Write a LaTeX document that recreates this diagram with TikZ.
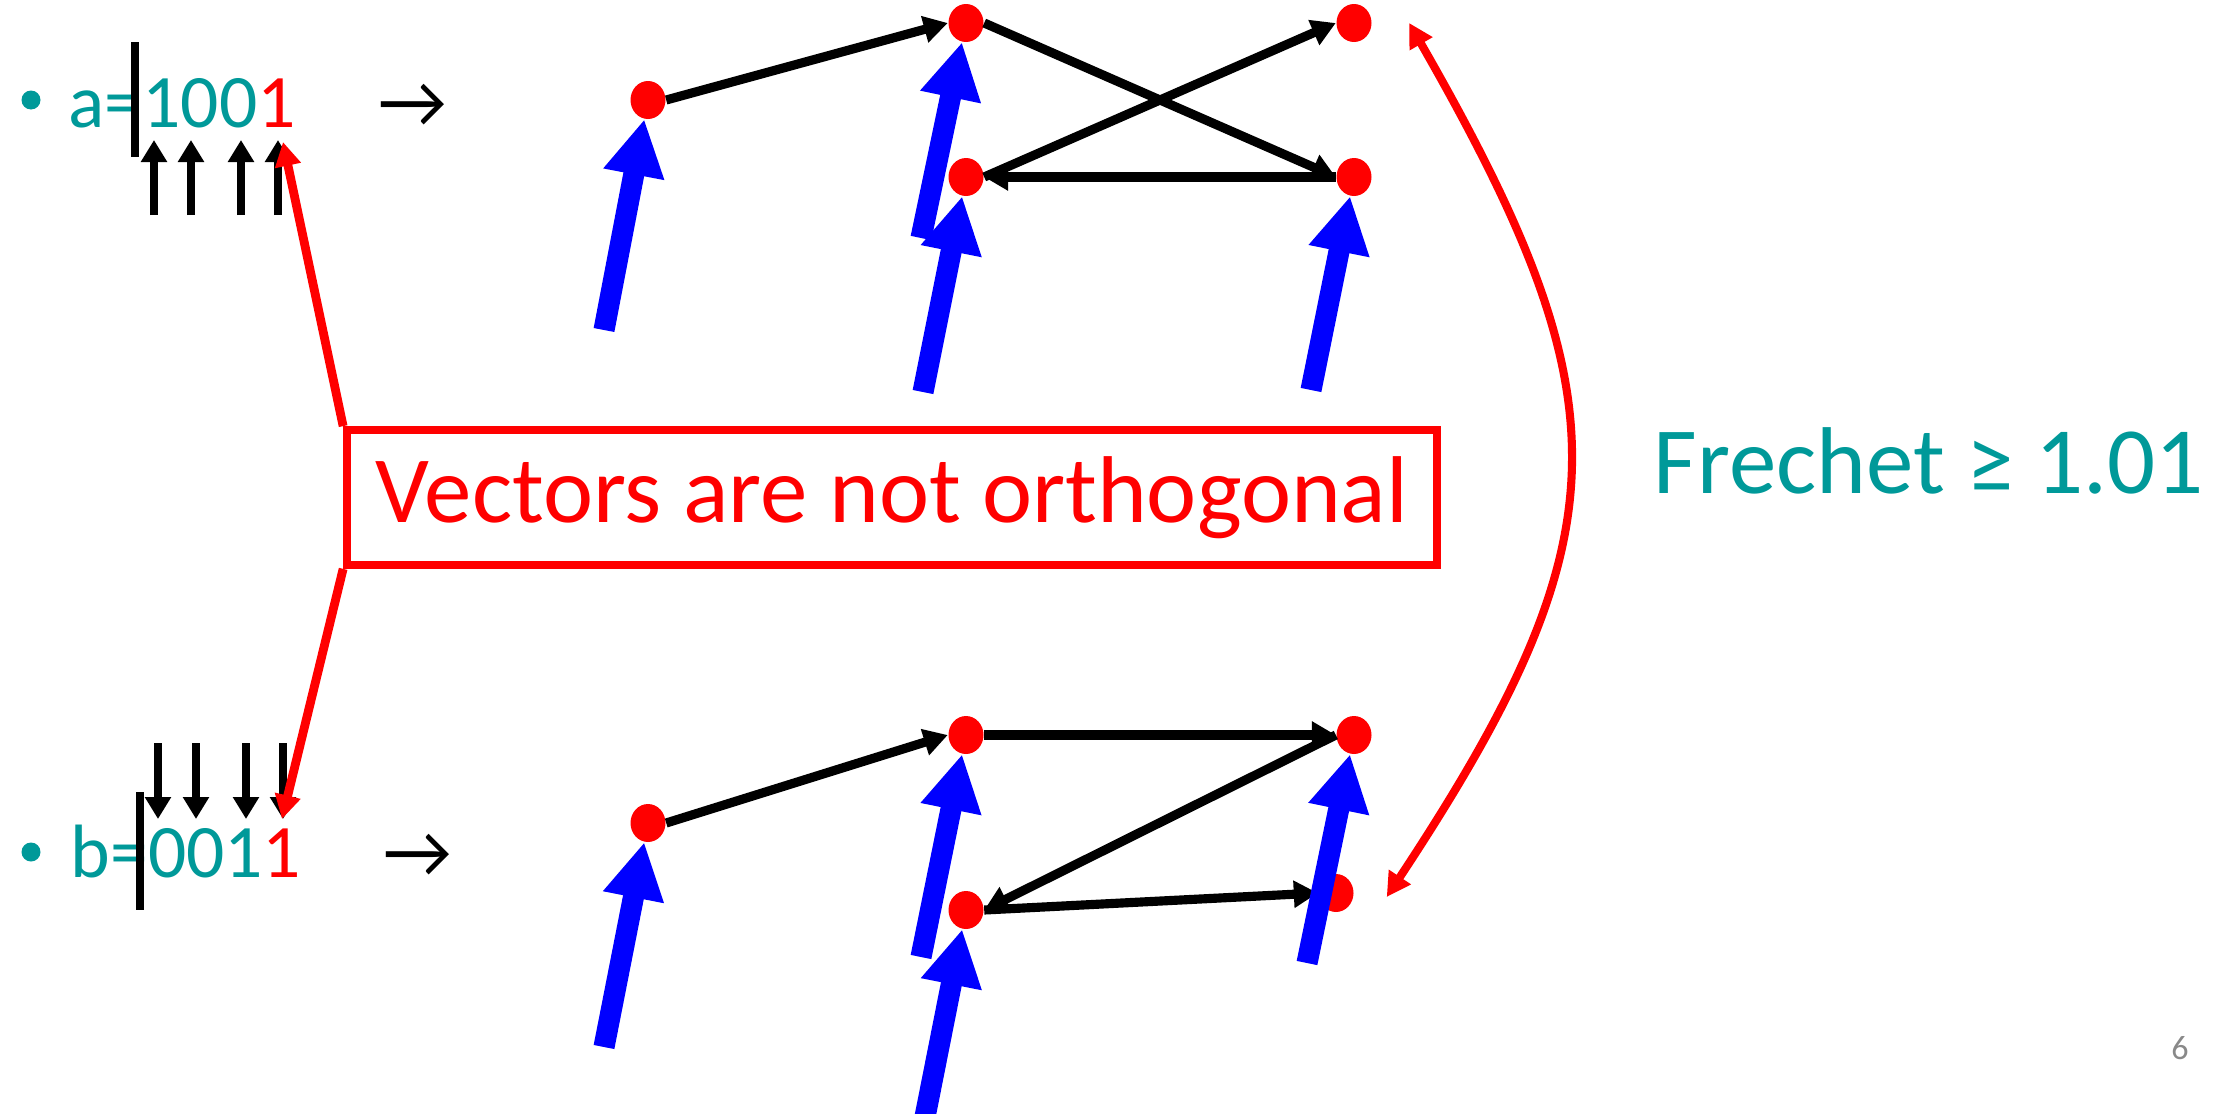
\documentclass[tikz,border=0pt]{standalone}
\usepackage{fontspec}
\setmainfont{Carlito}
\usetikzlibrary{arrows.meta,shapes.geometric,positioning}
\definecolor{verde}{RGB}{0,153,153}
\definecolor{grigio}{RGB}{137,137,137}

\begin{document}
\begin{tikzpicture}[
    punto/.style={ellipse, fill=red, inner sep=0pt, minimum width=3.5mm, minimum height=3.8mm},
    arco/.style={line width=2.6pt, -{Triangle[length=2.4mm,width=2.6mm]}},
    vett/.style={blue, line width=6pt, -{Triangle[length=5.6mm,width=5.8mm]}},
    bit/.style={line width=2.2pt, -{Triangle[length=2.2mm,width=2.5mm]}},
    rosso/.style={red, line width=2.5pt, -{Triangle[length=2.4mm,width=2.5mm]}},
    riga/.style={anchor=base west, inner sep=0pt, text=verde, font=\fontsize{21.5}{24}\selectfont},
    pallino/.style={circle, fill=verde, inner sep=0pt, minimum size=1.9mm}
  ]

  \useasboundingbox (0,0) rectangle (22.32,11.13);

  % --- a = 1001 ---
  \node[pallino] (bula) at (0.31,10.13) {};
  \node[riga] (a) at (0.68,9.86) {a=100\textcolor{red}{1}};
  \node[riga, text=black] (fa) at (3.78,9.86) {→};
  \draw[line width=2.2pt] (1.35,10.71) -- (1.35,9.56);
  \foreach \x in {1.54,1.91,2.41,2.78}
    \draw[bit] (\x,8.98) -- (\x,9.73);

  % --- b = 0011 ---
  \node[pallino] (bulb) at (0.31,2.61) {};
  \node[riga] (b) at (0.70,2.36) {b=001\textcolor{red}{1}};
  \node[riga, text=black] (fb) at (3.83,2.36) {→};
  \draw[line width=2.2pt] (1.40,3.21) -- (1.40,2.03);
  \foreach \x in {1.58,1.96,2.46,2.83}
    \draw[bit] (\x,3.70) -- (\x,2.94);

  % --- punti di a ---
  \node[punto] (pa1) at (6.48,10.13) {};
  \node[punto] (pa2) at (9.66,10.90) {};
  \node[punto] (pa3) at (13.54,10.90) {};
  \node[punto] (pa4) at (9.66,9.36) {};
  \node[punto] (pa5) at (13.54,9.36) {};

  % --- punti di b ---
  \node[punto] (pb1) at (6.48,2.90) {};
  \node[punto] (pb2) at (9.66,3.78) {};
  \node[punto] (pb3) at (13.54,3.78) {};
  \node[punto] (pb4) at (9.66,2.03) {};
  \node[punto] (pb5) at (13.36,2.20) {};

  % --- cammino di a ---
  \draw[arco] (pa1.east) -- (pa2.west);
  \draw[arco] (pa2.east) -- (pa5.west);
  \draw[arco] (pa5.west) -- (pa4.east);
  \draw[arco] (pa4.east) -- (pa3.west);

  % --- cammino di b ---
  \draw[arco] (pb1.east) -- (pb2.west);
  \draw[arco] (pb2.east) -- (pb3.west);
  \draw[arco] (pb3.west) -- (pb4.east);
  \draw[arco] (pb4.east) -- (pb5.west);

  % --- vettori blu ---
  \foreach \p/\x/\y in {pa1/6.04/7.83, pa2/9.21/8.75, pa4/9.23/7.21, pa5/13.11/7.23,
                        pb1/6.04/0.66, pb2/9.21/1.56, pb4/9.23/-0.14, pb3/13.07/1.50} {
    \coordinate (c\p) at (\x,\y);
    \draw[vett] (c\p) -- (\p);
  }

  % --- riquadro ---
  \node[draw=red, line width=2.2pt, text=red, minimum width=10.9cm, minimum height=1.35cm,
        font=\fontsize{27}{31}\selectfont] (box) at (8.92,6.155) {Vectors are not orthogonal};
  \coordinate (ta) at (2.83,9.71);
  \coordinate (tb) at (2.82,2.94);
  \draw[rosso] (box.north west) -- (ta);
  \draw[rosso] (box.south west) -- (tb);

  % --- Frechet ---
  \draw[rosso, line width=2.3pt, {Triangle[length=2.4mm,width=2.5mm]}-{Triangle[length=2.4mm,width=2.5mm]}]
    ([xshift=3.7mm]pa3.east) .. controls (16.26,7.12) and (16.26,5.78) .. ([xshift=3.25mm,yshift=-0.4mm]pb5.east);
  \node[anchor=base west, inner sep=0pt, text=verde, font=\fontsize{27}{32}\selectfont]
    (fr) at (16.53,6.20) {Frechet ≥ 1.01};

  \node[text=grigio, font=\fontsize{9.7}{12}\selectfont] (num) at (21.80,0.65) {6};

\end{tikzpicture}
\end{document}
